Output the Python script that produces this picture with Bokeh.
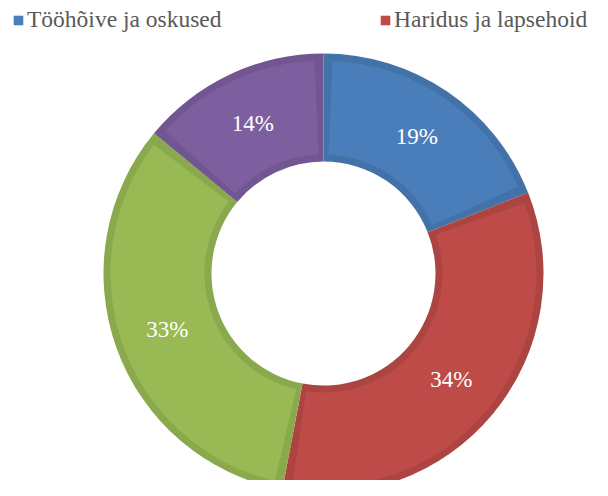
import numpy as np
from bokeh.plotting import figure
from bokeh.models import Range1d, ColumnDataSource, Legend, LegendItem
from bokeh.core.properties import value
from bokeh.embed import file_html
from bokeh.resources import INLINE

categories = ["Tööhõive ja oskused", "Haridus ja lapsehoid", "", ""]
shares = [19, 34, 33, 14]
labels = ["19%", "34%", "33%", "14%"]
fill_colors = ["#4a7ebb", "#be4b48", "#98b954", "#7d5fa0"]
edge_colors = ["#4372a9", "#ac4542", "#8aa94d", "#715691"]

FONT = "'Liberation Serif', 'Times New Roman', serif"

W, H = 592, 480
cx, cy = 323, 207
r_out, r_in = 220, 112
band = 7

vals = np.array(shares, dtype=float)
frac = vals / vals.sum()
cum = np.concatenate([[0], np.cumsum(frac)])
start = np.pi / 2 - cum[:-1] * 2 * np.pi
end = np.pi / 2 - cum[1:] * 2 * np.pi
mid = (start + end) / 2
r_mid = (r_in + r_out) / 2
delta = band / r_mid

src = ColumnDataSource(dict(
    cat=categories, start=start, end=end,
    istart=start - delta, iend=end + delta,
    fill=fill_colors, edge=edge_colors, label=labels,
    lx=cx + r_mid * np.cos(mid), ly=cy + r_mid * np.sin(mid),
))

p = figure(width=W, height=H, output_backend="svg", toolbar_location=None,
           x_range=Range1d(0, W), y_range=Range1d(0, H),
           x_axis_type=None, y_axis_type=None, min_border=0,
           outline_line_color=None, background_fill_color="white")
p.grid.visible = False

p.annular_wedge(x=cx, y=cy, inner_radius=r_in, outer_radius=r_out,
                start_angle="start", end_angle="end", direction="clock",
                fill_color="edge", line_color=None, source=src)
r2 = p.annular_wedge(x=cx, y=cy, inner_radius=r_in + band, outer_radius=r_out - band,
                     start_angle="istart", end_angle="iend", direction="clock",
                     fill_color="fill", line_color=None, source=src)

p.text(x="lx", y="ly", text="label", source=src, text_align="center",
       text_baseline="middle", text_color="white",
       text_font=value(FONT), text_font_size="23px")

def make_legend(idx, x):
    lg = Legend(items=[LegendItem(label=categories[idx], renderers=[r2], index=idx)],
                location=(x, 447), glyph_width=12, glyph_height=12,
                label_standoff=3, padding=0, margin=0, spacing=0,
                border_line_alpha=0, background_fill_alpha=0,
                label_text_font=FONT, label_text_font_size="23.5px",
                label_text_color="#595959")
    p.add_layout(lg, "center")

make_legend(0, 12)
make_legend(1, 379)

open("out.html", "w").write(file_html(p, INLINE))
